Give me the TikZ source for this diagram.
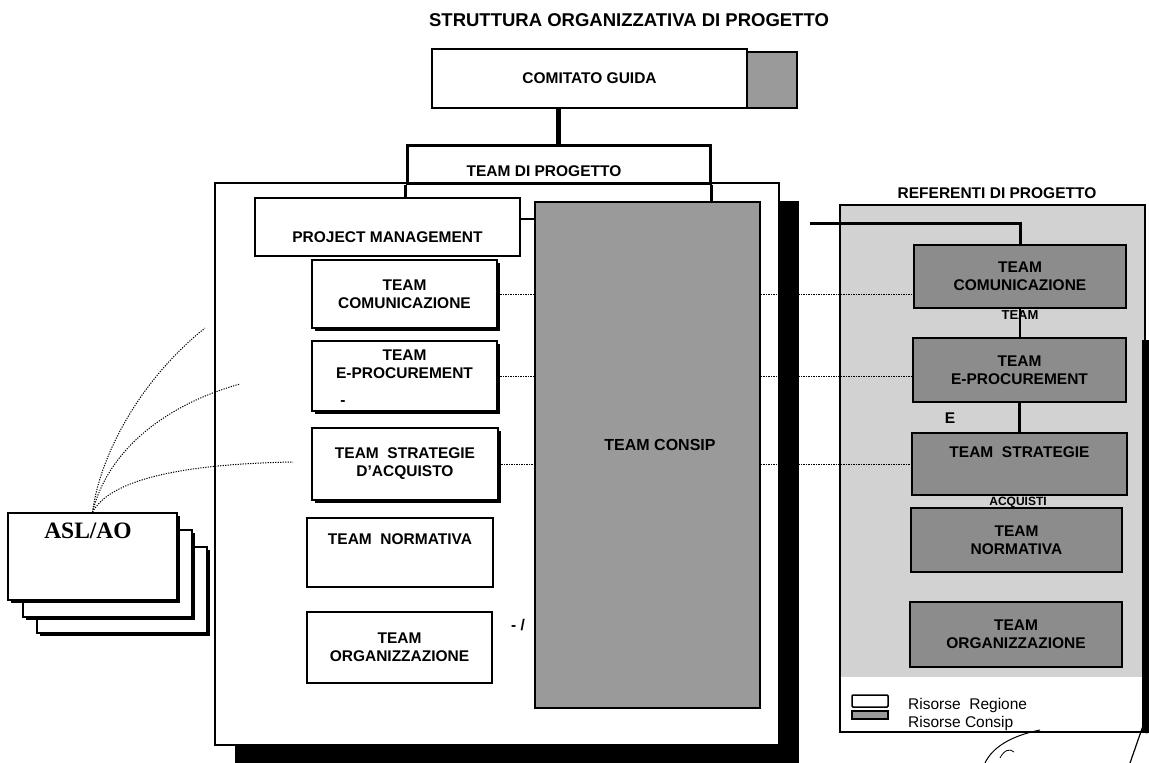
\documentclass[tikz,border=0pt]{standalone}
\usepackage{fontspec}
\setmainfont{Liberation Sans}
\newfontfamily\aslfont{Liberation Serif}
\usetikzlibrary{shadows,calc}
\definecolor{grigioconsip}{HTML}{9A9A9A}
\definecolor{grigioref}{HTML}{D2D2D2}
\definecolor{grigiobox}{HTML}{8C8C8C}
\tikzset{
    testo/.style={font=\fontsize{15.5}{18}\selectfont\bfseries, align=center, inner sep=0pt},
    dim/.style 2 args={minimum width=#1pt, minimum height=#2pt},
    regione/.style={testo, draw, line width=1.8pt, fill=white},
    ombra/.style={drop shadow={shadow xshift=2.5pt, shadow yshift=-2.5pt, fill=black, opacity=1}},
    boxconsip/.style={testo, draw, line width=2.4pt, fill=grigiobox},
    puntini/.style={line width=1pt, dash pattern=on 1.2pt off 1.3pt},
    spesso/.style={line width=4.5pt}
}
\begin{document}
\begin{tikzpicture}[x=1pt, y=-1pt]
    \useasboundingbox (0,0) rectangle (1149,763);
    \fill[white] (0,0) rectangle (1149,763);

    \node[testo, font=\fontsize{18.5}{20}\selectfont\bfseries] (titolo) at (629,20) {STRUTTURA ORGANIZZATIVA DI PROGETTO};

    % ASL/AO
    \node[regione, ombra, dim={170}{86}] (asl3) at (122,590) {};
    \node[regione, ombra, dim={169}{87}] (asl2) at (107.5,573.5) {};
    \node[regione, ombra, dim={169}{87}] (asl1) at (92.5,556.5) {};
    \node[font=\aslfont\fontsize{23.5}{26}\selectfont\bfseries, inner sep=0pt] (lasl) at (88,531) {ASL/AO};

    % team di progetto
    \node[draw, line width=1.5pt, fill=white, dim={564}{562}, drop shadow={shadow xshift=20pt, shadow yshift=-18pt, fill=black, opacity=1}] (team) at (497,464) {};

    \coordinate (c1) at (293,462);
    \coordinate (c2) at (240,384);
    \coordinate (c3) at (205,328);
    \draw[puntini] (asl1.north) .. controls (110,480) and (180,464) .. (c1);
    \draw[puntini] (asl1.north) .. controls (108,450) and (165,405) .. (c2);
    \draw[puntini] (asl1.north) .. controls (100,455) and (140,380) .. (c3);

    \node[draw, line width=3pt, fill=white, dim={303}{38}] (progetto) at (558.5,164) {};
    \node[testo] (lprogetto) at (544,171) {TEAM DI PROGETTO};

    % comitato guida
    \node[regione, dim={315}{59}] (comitato) at (589.5,78.5) {COMITATO GUIDA};
    \node[draw, line width=1.8pt, fill=grigioconsip, dim={50}{56}] (cgrigio) at (772,80) {};
    \draw[spesso] (progetto.north |- comitato.south) -- (progetto.north);

    \node[regione, dim={265}{58}] (pm) at (387.5,227) {};
    \node[testo] (lpm) at (387.5,237) {PROJECT MANAGEMENT};

    \node[draw, line width=1.8pt, fill=grigioconsip, dim={225}{506}] (consip) at (647.5,455) {};
    \node[testo, font=\fontsize{16}{18}\selectfont\bfseries] (lconsip) at (660,445) {TEAM CONSIP};

    \draw[line width=2.5pt] ([yshift=8pt]pm.east) -- ([yshift=8pt]pm.east -| consip.west);
    \draw[line width=2.5pt] (progetto.south west) -- (progetto.south west |- pm.north);
    \draw[line width=3pt] (progetto.south east) -- (progetto.south east |- consip.north);

    % team regione
    \node[regione, ombra, dim={185}{68}] (lcom) at (404.5,294) {TEAM\\COMUNICAZIONE};
    \node[regione, ombra, dim={185}{70}] (leproc) at (404.5,376) {TEAM\\E-PROCUREMENT\\[6pt]};
    \node[regione, ombra, dim={186}{72}] (lstrat) at (405,464) {TEAM\ \ STRATEGIE\\D'ACQUISTO};
    \node[regione, dim={186}{69}] (lnorm) at (400,552.5) {TEAM\ \ NORMATIVA\\[8pt]};
    \node[regione, dim={185}{71}] (lorg) at (399.5,647.5) {TEAM\\ORGANIZZAZIONE};
    \node[testo] (trat1) at (343,403) {-};
    \node[testo] (trat2) at (518,625) {- /};

    \draw[puntini] (lcom.east) -- (lcom.east -| consip.west);
    \draw[puntini] (leproc.east) -- (leproc.east -| consip.west);
    \draw[puntini] (lstrat.east) -- (lstrat.east -| consip.west);

    % referenti di progetto
    \fill[grigioref] (840,205) rectangle (1145,677);
    \node[draw, line width=1.5pt, dim={305}{527}] (referenti) at (992.5,468.5) {};
    \fill (1142,340) rectangle (1149,732);
    \draw[line width=1.5pt] (referenti.south east) -- (1149,732);
    \node[testo] (lreferenti) at (997,193) {REFERENTI DI PROGETTO};

    \node[boxconsip, dim={212}{63}] (rcom) at (1020,276.5) {TEAM\\COMUNICAZIONE};
    \node[boxconsip, dim={213}{64}] (reproc) at (1019.5,370) {TEAM\\E-PROCUREMENT};
    \node[boxconsip, dim={215}{62}] (rstrat) at (1019.5,464) {TEAM\ \ STRATEGIE\\[6pt]};
    \node[boxconsip, dim={211}{64}] (rnorm) at (1016.5,540) {TEAM\\NORMATIVA};
    \node[boxconsip, dim={212}{65}] (rorg) at (1016,634.5) {TEAM\\ORGANIZZAZIONE};

    \coordinate (rif) at (810,223);
    \draw[line width=3pt] (rif) -| (rcom.north);
    \draw[line width=2.5pt] (rcom.south) -- (rcom.south |- reproc.north);
    \draw[line width=2.5pt] (reproc.south) -- (reproc.south |- rstrat.north);

    \draw[puntini] (lcom.east -| consip.east) -- (lcom.east -| rcom.west);
    \draw[puntini] (leproc.east -| consip.east) -- (leproc.east -| reproc.west);
    \draw[puntini] (lstrat.east -| consip.east) -- (lstrat.east -| rstrat.west);

    \node[testo, font=\fontsize{13}{14}\selectfont\bfseries] (trat3) at (1020,315) {TEAM};
    \node[testo] (trat4) at (950,418) {E};
    \node[testo, font=\fontsize{12}{13}\selectfont\bfseries] (trat5) at (1018,502) {ACQUISTI};

    % legenda
    \node[draw, line width=1.5pt, fill=white, rounded corners=1pt, dim={36}{12}] (lgreg) at (870,701) {};
    \node[draw, line width=1.5pt, fill=grigioconsip, dim={36}{8}] (lgcons) at (870,715) {};
    \node[anchor=west, font=\fontsize{15.5}{18}\selectfont, inner sep=0pt] (tlgreg) at (908,705) {Risorse\ \ Regione};
    \node[anchor=west, font=\fontsize{15.5}{18}\selectfont, inner sep=0pt] (tlgcons) at (908,723) {Risorse Consip};

    % firma
    \draw[line width=1pt] (985,763) .. controls (992,748) and (1010,736) .. (1040,730);
    \draw[line width=0.8pt] (1000,758) .. controls (1004,750) and (1010,748) .. (1014,752);
    \draw[line width=1.2pt] (1145,720) -- (1130,763);
\end{tikzpicture}
\end{document}
